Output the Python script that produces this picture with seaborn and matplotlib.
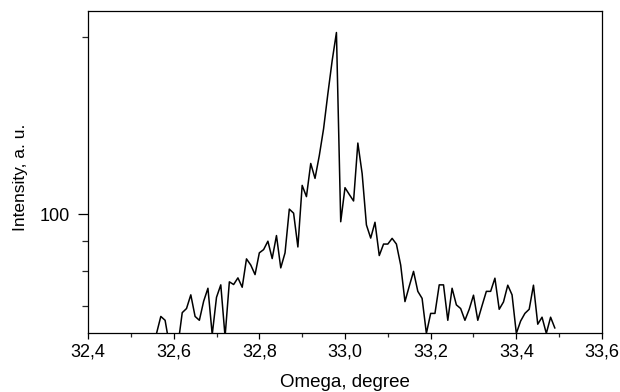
import numpy as np
import pandas as pd
import matplotlib
matplotlib.use("Agg")
import matplotlib.pyplot as plt
from matplotlib.ticker import FixedLocator, NullFormatter
import seaborn as sns

# ---- data ----
omega = [32.56, 32.57, 32.58, 32.59, 32.60, 32.61, 32.62, 32.63, 32.64, 32.65,
         32.66, 32.67, 32.68, 32.69, 32.70, 32.71, 32.72, 32.73, 32.74, 32.75,
         32.76, 32.77, 32.78, 32.79, 32.80, 32.81, 32.82, 32.83, 32.84, 32.85,
         32.86, 32.87, 32.88, 32.89, 32.90, 32.91, 32.92, 32.93, 32.94, 32.95,
         32.96, 32.97, 32.98, 32.99, 33.00, 33.01, 33.02, 33.03, 33.04, 33.05,
         33.06, 33.07, 33.08, 33.09, 33.10, 33.11, 33.12, 33.13, 33.14, 33.15,
         33.16, 33.17, 33.18, 33.19, 33.20, 33.21, 33.22, 33.23, 33.24, 33.25,
         33.26, 33.27, 33.28, 33.29, 33.30, 33.31, 33.32, 33.33, 33.34, 33.35,
         33.36, 33.37, 33.38, 33.39, 33.40, 33.41, 33.42, 33.43, 33.44, 33.45,
         33.46, 33.47, 33.48, 33.49]

intensity = [62.8, 67.1, 66.1, 60.0, 58.0, 60.0, 68.1, 69.2, 73.0, 67.1,
             66.1, 71.2, 74.9, 62.5, 72.3, 75.9, 62.0, 76.8, 76.0, 78.0,
             75.2, 84.0, 82.0, 79.0, 86.0, 87.1, 90.0, 84.1, 92.0, 81.1,
             86.0, 102.0, 100.4, 88.0, 111.9, 107.1, 121.9, 115.0, 125.7, 139.6,
             160.0, 182.0, 203.2, 97.1, 110.9, 108.0, 105.3, 132.0, 117.2, 95.9,
             91.1, 96.9, 85.1, 89.0, 89.0, 91.0, 89.0, 82.0, 71.1, 75.5,
             80.0, 74.0, 72.0, 62.8, 67.9, 67.9, 75.9, 75.9, 66.1, 74.9,
             70.2, 69.2, 66.1, 69.0, 72.9, 66.1, 70.0, 74.0, 74.0, 77.9,
             69.0, 71.0, 75.8, 73.0, 62.8, 65.9, 67.9, 69.0, 75.8, 65.1,
             66.9, 62.8, 66.9, 64.1]

x_ticks = [32.4, 32.6, 32.8, 33.0, 33.2, 33.4, 33.6]
x_tick_labels = ["32,4", "32,6", "32,8", "33,0", "33,2", "33,4", "33,6"]
x_minor_ticks = [32.5, 32.7, 32.9, 33.1, 33.3, 33.5]
y_ticks = [100]
y_tick_labels = ["100"]
y_minor_ticks = [70, 80, 90, 200]

df = pd.DataFrame({"Omega": omega, "Intensity": intensity})

sns.set_style("ticks")
plt.rcParams["font.family"] = ["Liberation Sans", "DejaVu Sans"]

fig = plt.figure(figsize=(6.2, 3.92), dpi=100)
ax = fig.add_axes([88 / 620, 1 - 333 / 392, (602 - 88) / 620, (333 - 11) / 392])
ax.set_yscale("log")

sns.lineplot(data=df, x="Omega", y="Intensity", ax=ax, color="black",
             linewidth=1.1, estimator=None, sort=False)

ax.set_xlim(32.4, 33.6)
ax.set_ylim(62.9, 221)

ax.xaxis.set_major_locator(FixedLocator(x_ticks))
ax.set_xticklabels(x_tick_labels)
ax.xaxis.set_minor_locator(FixedLocator(x_minor_ticks))
ax.yaxis.set_major_locator(FixedLocator(y_ticks))
ax.set_yticklabels(y_tick_labels)
ax.yaxis.set_minor_locator(FixedLocator(y_minor_ticks))
ax.yaxis.set_minor_formatter(NullFormatter())

ax.tick_params(axis="x", which="major", direction="out", length=4.5, width=0.9,
               labelsize=13, pad=3.2, colors="black")
ax.tick_params(axis="x", which="minor", direction="out", length=3, width=0.9)
ax.tick_params(axis="y", which="major", direction="out", length=7, width=0.9,
               labelsize=13, pad=6.0, colors="black")
ax.tick_params(axis="y", which="minor", direction="out", length=4, width=0.9)

for s in ax.spines.values():
    s.set_visible(True)
    s.set_linewidth(0.9)
    s.set_color("black")

ax.set_xlabel("Omega, degree", fontsize=13.5, color="black")
ax.xaxis.label.set_va("baseline")
ax.xaxis.set_label_coords(0.5, (333 - 387.0) / 322)
ax.set_ylabel("Intensity, a. u.", fontsize=12.5, color="black")
ax.yaxis.set_label_coords((28 - 88) / 514, (333 - 177.5) / 322)

fig.savefig("out.png", dpi=100)
